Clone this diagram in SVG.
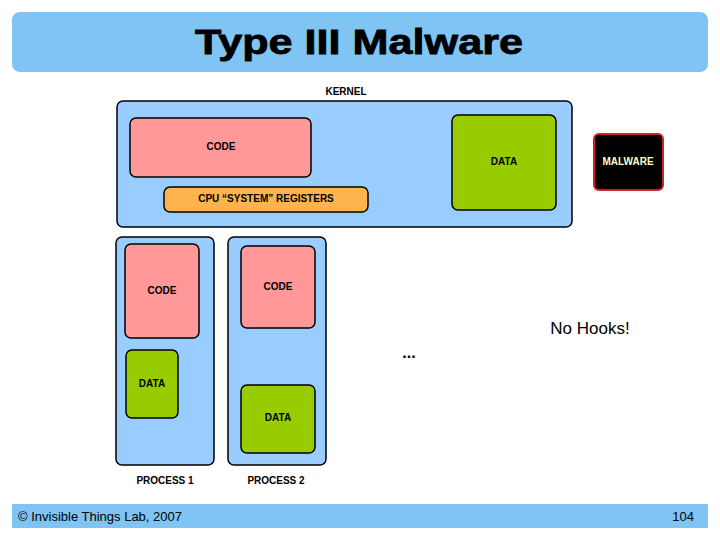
<svg xmlns="http://www.w3.org/2000/svg" width="720" height="540" viewBox="0 0 720 540">
<style>
text{font-family:"Liberation Sans",Arial,sans-serif;font-weight:bold;font-size:10px;fill:#000;text-anchor:middle}
.box{stroke:#000;stroke-width:1.5}
.blue{fill:#99ccff}.pink{fill:#ff9999}.green{fill:#99cc00}.orange{fill:#ffb34d}
</style>
<rect width="720" height="540" fill="#fff"/>
<rect x="12" y="12" width="696" height="60" rx="8" fill="#80c4f4"/>
<text x="359" y="54" textLength="328" lengthAdjust="spacingAndGlyphs" style="font-size:35px;stroke:#000;stroke-width:0.8">Type III Malware</text>
<g id="kernel">
<text x="346" y="95">KERNEL</text>
<rect class="box blue" x="117" y="101" width="455" height="126" rx="6"/>
</g>
<g id="kcode"><rect class="box pink" x="130" y="118" width="181" height="59" rx="6"/><text x="221" y="150">CODE</text></g>
<g id="regs"><rect class="box orange" x="164" y="187" width="204" height="25" rx="6"/><text x="266" y="202">CPU “SYSTEM” REGISTERS</text></g>
<g id="kdata"><rect class="box green" x="452" y="115" width="104" height="95" rx="6"/><text x="504" y="165">DATA</text></g>
<g id="malware"><rect x="594" y="134" width="69" height="56" rx="5" fill="#000" stroke="#d0202a" stroke-width="2"/><text x="628" y="165" style="fill:#ffffcc">MALWARE</text></g>
<g id="p1">
<rect class="box blue" x="116" y="237" width="98" height="228" rx="6"/>
<text x="165" y="484">PROCESS 1</text>
</g>
<g id="p1code"><rect class="box pink" x="125" y="244" width="74" height="94" rx="6"/><text x="162" y="294">CODE</text></g>
<g id="p1data"><rect class="box green" x="126" y="350" width="52" height="68" rx="6"/><text x="152" y="387">DATA</text></g>
<g id="p2">
<rect class="box blue" x="228" y="237" width="98" height="228" rx="6"/>
<text x="276" y="484">PROCESS 2</text>
</g>
<g id="p2code"><rect class="box pink" x="241" y="246" width="74" height="82" rx="6"/><text x="278" y="290">CODE</text></g>
<g id="p2data"><rect class="box green" x="241" y="385" width="74" height="68" rx="6"/><text x="278" y="421">DATA</text></g>
<g id="connectors"></g>
<text x="409" y="358" style="font-size:16px">...</text>
<text x="590" y="334" style="font-size:17px;font-weight:normal">No Hooks!</text>
<rect x="12" y="504" width="696" height="24" fill="#80c4f4"/>
<text x="18" y="521" style="font-size:13px;font-weight:normal;text-anchor:start">© Invisible Things Lab, 2007</text>
<text x="694" y="521" style="font-size:13px;font-weight:normal;text-anchor:end">104</text>
</svg>
